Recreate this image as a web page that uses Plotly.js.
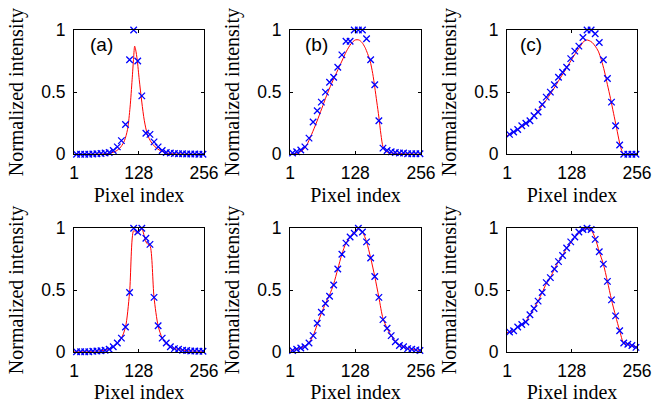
<!DOCTYPE html>
<html><head><meta charset="utf-8">
<script src="https://cdn.plot.ly/plotly-3.0.1.min.js"></script>
<style>html,body{margin:0;padding:0;background:#fff}</style>
</head><body><div id="chart" style="width:656px;height:404px"></div>
<script>
// Sample positions of the measured points (pixel index)
const pixelIdx = [6,14,22,30,38,46,54,62,70,78,86,94,102,110,118,126,134,142,150,158,166,174,182,190,198,206,214,222,230,238,246,254];

// Top row: measured (x markers) and fitted (red line)
const measA1 = [0,0,0,0,0.002,0.004,0.006,0.01,0.015,0.03,0.06,0.11,0.24,0.76,1.0,0.75,0.47,0.17,0.16,0.10,0.06,0.03,0.015,0.01,0.006,0.005,0.004,0.003,0.002,0.002,0.001,0.001];
const fitXA1 = [1,60,75,85,93,100,106,111,115,118,120,122,125,129,134,139,145,152,160,170,182,195,256];
const fitYA1 = [0,0.003,0.012,0.03,0.06,0.11,0.2,0.38,0.6,0.78,0.87,0.84,0.76,0.6,0.42,0.27,0.16,0.1,0.06,0.03,0.012,0.004,0];

const measB1 = [0.01,0.02,0.035,0.06,0.13,0.26,0.35,0.42,0.50,0.58,0.62,0.70,0.80,0.91,0.91,1.0,1.0,1.0,0.93,0.76,0.56,0.27,0.05,0.03,0.02,0.015,0.01,0.01,0.005,0.005,0.005,0.005];
const fitXB1 = [1,15,25,33,43,53,63,72,82,92,102,111,120,128,135,141,147,152,157,162,166,170,174,178,182,186,192,202,220,256];
const fitYB1 = [0.0,0.01,0.03,0.07,0.16,0.26,0.37,0.47,0.57,0.66,0.75,0.83,0.89,0.92,0.92,0.9,0.86,0.81,0.75,0.65,0.54,0.42,0.3,0.16,0.06,0.03,0.015,0.01,0.005,0.0];

const measC1 = [0.16,0.18,0.20,0.23,0.25,0.27,0.31,0.34,0.40,0.46,0.50,0.56,0.62,0.66,0.70,0.77,0.83,0.87,0.94,1.0,1.0,0.97,0.90,0.76,0.61,0.42,0.23,0.075,0,0,0,0];
const fitXC1 = [1,15,30,45,60,75,90,105,120,135,145,152,157,162,168,174,180,186,192,198,204,210,216,222,226,229,240,256];
const fitYC1 = [0.15,0.18,0.22,0.27,0.34,0.42,0.51,0.61,0.71,0.81,0.87,0.91,0.92,0.915,0.9,0.87,0.83,0.76,0.67,0.56,0.45,0.33,0.21,0.09,0.03,0.0,0,0];

// Bottom row
const measA2 = [0,0,0,0,0.003,0.005,0.008,0.012,0.02,0.04,0.07,0.11,0.2,0.48,1.0,0.97,1.0,0.92,0.87,0.44,0.21,0.11,0.07,0.04,0.025,0.02,0.012,0.01,0.006,0.005,0.004,0.003];
const fitXA2 = [1,30,54,62,70,78,86,94,102,110,118,122,126,130,134,138,142,146,150,158,166,174,182,190,198,206,222,256];
const fitYA2 = [0,0.001,0.008,0.012,0.02,0.04,0.07,0.11,0.2,0.48,0.98,0.97,0.96,0.98,1.0,0.95,0.89,0.87,0.86,0.44,0.21,0.11,0.065,0.04,0.025,0.018,0.008,0.002];

const measB2 = [0.01,0.02,0.03,0.04,0.07,0.13,0.23,0.32,0.39,0.45,0.54,0.67,0.79,0.88,0.93,0.96,1.0,0.97,0.89,0.76,0.61,0.44,0.26,0.19,0.13,0.08,0.05,0.04,0.025,0.02,0.015,0.01];
const fitXB2 = [1,6,14,22,30,38,46,54,62,70,78,86,94,102,110,118,126,134,142,150,158,166,174,182,190,198,206,214,222,230,238,246,256];
const fitYB2 = [0.005,0.01,0.02,0.03,0.045,0.075,0.13,0.22,0.31,0.39,0.46,0.55,0.67,0.79,0.88,0.93,0.97,0.99,0.97,0.89,0.76,0.61,0.44,0.27,0.19,0.13,0.085,0.055,0.04,0.025,0.02,0.015,0.01];

const measC2 = [0.16,0.17,0.20,0.22,0.24,0.30,0.35,0.41,0.48,0.56,0.60,0.67,0.73,0.78,0.84,0.89,0.93,0.97,0.99,1.0,0.99,0.91,0.81,0.71,0.57,0.42,0.29,0.17,0.07,0.06,0.05,0.035];
const fitXC2 = [1,6,14,22,30,38,46,54,62,70,78,86,94,102,110,118,126,134,142,150,158,166,174,182,190,198,206,214,222,230,238,246,256];
const fitYC2 = [0.155,0.16,0.17,0.2,0.22,0.245,0.3,0.35,0.41,0.48,0.55,0.6,0.67,0.73,0.78,0.84,0.88,0.93,0.96,0.99,1.0,0.985,0.92,0.81,0.71,0.57,0.42,0.29,0.17,0.07,0.06,0.05,0.035];

// Axis tick labels and texts
const xTickVals = [1,128,256];
const xTickText = ['1','128','256'];
const yTickVals = [0,0.5,1];
const yTickText = ['0','0.5','1'];
const xTitle = 'Pixel index';
const yTitle = 'Normalized intensity';
const panelLabels = ['(a)','(b)','(c)'];

const meas = [measA1, measB1, measC1, measA2, measB2, measC2];
const fitX = [fitXA1, fitXB1, fitXC1, fitXA2, fitXB2, fitXC2];
const fitY = [fitYA1, fitYB1, fitYC1, fitYA2, fitYB2, fitYC2];

const W = 656, H = 404;
const colPx = [[74,204],[290,421],[507,637]];
const rowPx = [[30,154.3],[228.3,351.7]];

const tickFont = {family:'Liberation Sans, Arial, Helvetica, sans-serif', size:17.5, color:'#000'};
const titleFont = {family:'Liberation Serif, Times New Roman, serif', size:20, color:'#000'};

const data = [];
const layout = {
  width: W, height: H,
  margin: {l:0, r:0, t:0, b:0},
  paper_bgcolor: '#fff', plot_bgcolor: '#fff',
  showlegend: false,
  annotations: []
};

for (let i = 0; i < 6; i++) {
  const r = Math.floor(i/3), c = i % 3;
  const n = i + 1;
  const xa = 'x' + (n === 1 ? '' : n), ya = 'y' + (n === 1 ? '' : n);
  data.push({x: fitX[i], y: fitY[i], xaxis: xa, yaxis: ya, type:'scatter', mode:'lines',
    line:{color:'#ff0000', width:1, shape:'spline', smoothing:0.8}, hoverinfo:'skip'});
  data.push({x: pixelIdx, y: meas[i], xaxis: xa, yaxis: ya, type:'scatter', mode:'markers',
    cliponaxis:false,
    marker:{symbol:'x-thin', size:6.5, color:'#0000ff', line:{color:'#0000ff', width:1.3}}});
  const xd = [colPx[c][0]/W, colPx[c][1]/W];
  const yd = [1 - rowPx[r][1]/H, 1 - rowPx[r][0]/H];
  const common = {ticks:'inside', ticklen:3, tickcolor:'#000', tickwidth:1, showline:true,
    linecolor:'#000', linewidth:1, mirror:'allticks', showgrid:false, zeroline:false,
    tickfont: tickFont, fixedrange:true};
  layout['xaxis' + (n === 1 ? '' : n)] = Object.assign({}, common, {
    domain: xd, anchor: ya, range:[1,256], tickmode:'array', tickvals:xTickVals, ticktext:xTickText,
    ticklabelstandoff: 3,
    title:{text:xTitle, font:titleFont, standoff:5}});
  layout['yaxis' + (n === 1 ? '' : n)] = Object.assign({}, common, {
    domain: yd, anchor: xa, range:[0,1], tickmode:'array', tickvals:yTickVals, ticktext:yTickText,
    ticklabelstandoff: 4,
    title:{text:yTitle, font:titleFont, standoff:12}});
  if (r === 0) {
    layout.annotations.push({text: panelLabels[c], xref: xa + ' domain', yref: ya + ' domain',
      x: [0.208,0.202,0.185][c], y: 0.881, xanchor:'center', yanchor:'middle', showarrow:false,
      font:{family:'Liberation Sans, Arial, sans-serif', size:19, color:'#000'}});
  }
}

Plotly.newPlot('chart', data, layout, {staticPlot:true, displayModeBar:false});
</script></body></html>
